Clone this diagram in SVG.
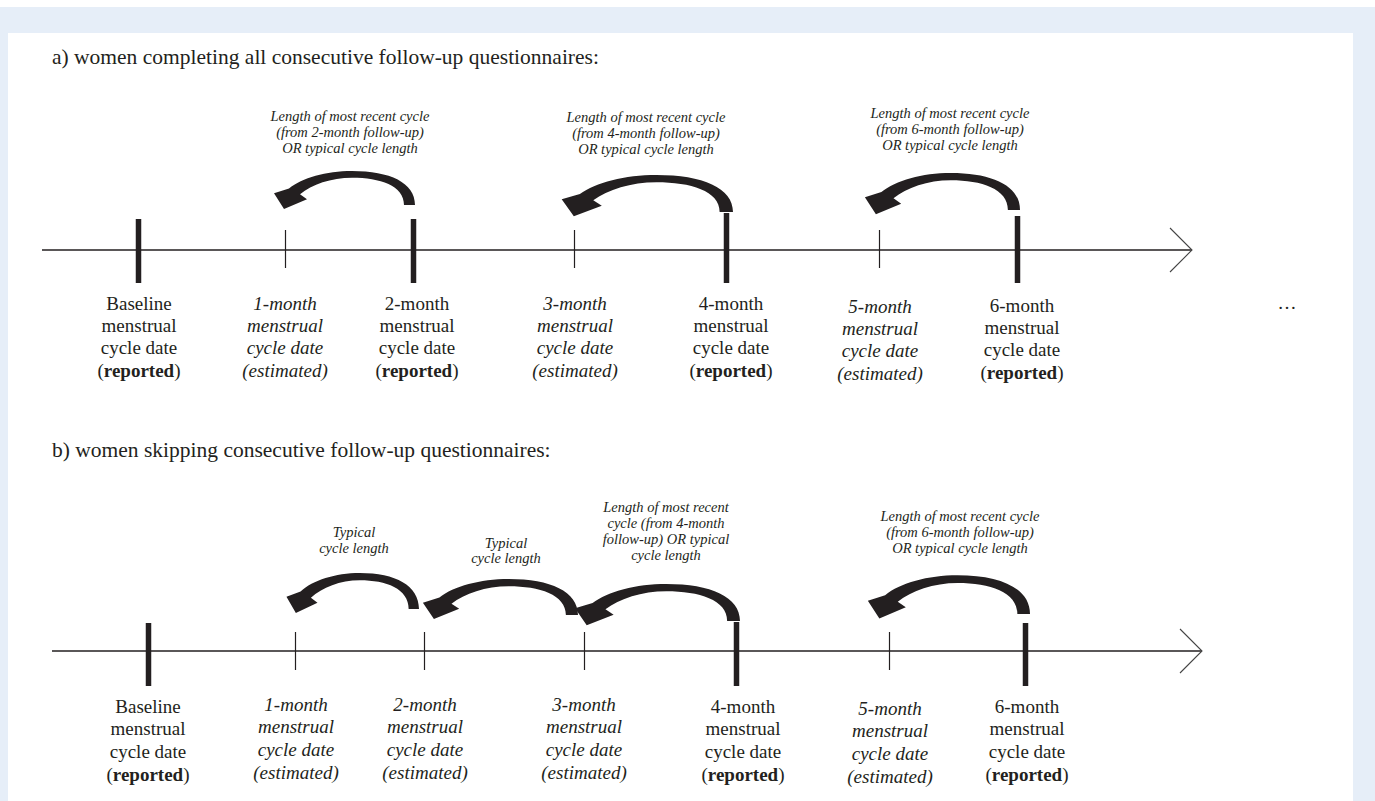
<svg xmlns="http://www.w3.org/2000/svg" xmlns:xlink="http://www.w3.org/1999/xlink" width="1375" height="801" viewBox="0 0 1375 801">
<style>
.t{font-family:"Liberation Serif","Times New Roman",serif;fill:#231f20}
.title{font-size:21.5px}
.lab{font-size:19px;text-anchor:middle}
.it{font-style:italic}
.ann{font-size:14.5px;font-style:italic;text-anchor:middle}
.axis{stroke:#231f20;stroke-width:1.3;fill:none}
.chev{stroke:#444;stroke-width:1.1;fill:none}
.thick{stroke:#231f20;stroke-width:5.5}
.thin{stroke:#231f20;stroke-width:1.2}
.b{font-weight:bold}
</style>
<defs>
<path id="carrow" fill="#231f20" d="M -11 0 C -11 -20 -35 -28 -63 -28 C -84 -28 -103 -21 -115 -11 L -108 -6 L -131 4 L -141 -12 L -126 -17 C -113 -28 -89 -35 -63 -35 C -25 -35 0 -23 0 0 Z"/>
</defs>
<rect x="0" y="0" width="1375" height="801" fill="#ffffff"/>
<rect x="0" y="7" width="1375" height="794" fill="#e6eef8"/>
<rect x="8" y="33" width="1345" height="768" fill="#ffffff"/>

<text class="t title" x="52" y="64">a) women completing all consecutive follow-up questionnaires:</text>
<text class="t title" x="52" y="457">b) women skipping consecutive follow-up questionnaires:</text>

<g id="connectors">
<line class="axis" x1="42" y1="250" x2="1192" y2="250"/>
<polyline class="chev" points="1170,228 1192,250 1170,272"/>
<line class="axis" x1="52" y1="651" x2="1202" y2="651"/>
<polyline class="chev" points="1180,629 1202,651 1180,673"/>
<use xlink:href="#carrow" transform="translate(415 205) scale(1.0 0.97)"/>
<use xlink:href="#carrow" transform="translate(733 212) scale(1.215 1.06)"/>
<use xlink:href="#carrow" transform="translate(1020 210) scale(1.1 1.06)"/>
<use xlink:href="#carrow" transform="translate(419 609) scale(0.94 1.03)"/>
<use xlink:href="#carrow" transform="translate(578 615) scale(1.1 1.03)"/>
<use xlink:href="#carrow" transform="translate(740 621) scale(1.17 1.06)"/>
<use xlink:href="#carrow" transform="translate(1030 614) scale(1.15 1.11)"/>
</g>

<!-- panel a -->
<g id="a-baseline">
<line class="thick" x1="138.5" y1="219" x2="138.5" y2="283"/>
<text class="t lab" x="139" y="310">Baseline</text>
<text class="t lab" x="139" y="332">menstrual</text>
<text class="t lab" x="139" y="354">cycle date</text>
<text class="t lab" x="139" y="377">(<tspan class="b">reported</tspan>)</text>
</g>
<g id="a-1month">
<line class="thin" x1="285.5" y1="230" x2="285.5" y2="268"/>
<text class="t lab it" x="285" y="310">1-month</text>
<text class="t lab it" x="285" y="332">menstrual</text>
<text class="t lab it" x="285" y="354">cycle date</text>
<text class="t lab it" x="285" y="377">(estimated)</text>
</g>
<g id="a-2month">
<line class="thick" x1="413.5" y1="219" x2="413.5" y2="283"/>
<text class="t lab" x="417" y="310">2-month</text>
<text class="t lab" x="417" y="332">menstrual</text>
<text class="t lab" x="417" y="354">cycle date</text>
<text class="t lab" x="417" y="377">(<tspan class="b">reported</tspan>)</text>
</g>
<g id="a-3month">
<line class="thin" x1="574.5" y1="230" x2="574.5" y2="268"/>
<text class="t lab it" x="575" y="310">3-month</text>
<text class="t lab it" x="575" y="332">menstrual</text>
<text class="t lab it" x="575" y="354">cycle date</text>
<text class="t lab it" x="575" y="377">(estimated)</text>
</g>
<g id="a-4month">
<line class="thick" x1="726.5" y1="213" x2="726.5" y2="283"/>
<text class="t lab" x="731" y="310">4-month</text>
<text class="t lab" x="731" y="332">menstrual</text>
<text class="t lab" x="731" y="354">cycle date</text>
<text class="t lab" x="731" y="377">(<tspan class="b">reported</tspan>)</text>
</g>
<g id="a-5month">
<line class="thin" x1="879.5" y1="230" x2="879.5" y2="268"/>
<text class="t lab it" x="880" y="313">5-month</text>
<text class="t lab it" x="880" y="335">menstrual</text>
<text class="t lab it" x="880" y="357">cycle date</text>
<text class="t lab it" x="880" y="380">(estimated)</text>
</g>
<g id="a-6month">
<line class="thick" x1="1017.5" y1="216" x2="1017.5" y2="283"/>
<text class="t lab" x="1022" y="312">6-month</text>
<text class="t lab" x="1022" y="334">menstrual</text>
<text class="t lab" x="1022" y="356">cycle date</text>
<text class="t lab" x="1022" y="379">(<tspan class="b">reported</tspan>)</text>
</g>
<g id="a-ann1">
<text class="t ann" x="350" y="121">Length of most recent cycle</text>
<text class="t ann" x="350" y="137">(from 2-month follow-up)</text>
<text class="t ann" x="350" y="153">OR typical cycle length</text>
</g>
<g id="a-ann2">
<text class="t ann" x="646" y="122">Length of most recent cycle</text>
<text class="t ann" x="646" y="138">(from 4-month follow-up)</text>
<text class="t ann" x="646" y="154">OR typical cycle length</text>
</g>
<g id="a-ann3">
<text class="t ann" x="950" y="118">Length of most recent cycle</text>
<text class="t ann" x="950" y="134">(from 6-month follow-up)</text>
<text class="t ann" x="950" y="150">OR typical cycle length</text>
</g>
<g id="ellipsis">
<text class="t lab" x="1287" y="309">…</text>
</g>

<!-- panel b -->
<g id="b-baseline">
<line class="thick" x1="148.5" y1="623" x2="148.5" y2="686"/>
<text class="t lab" x="148" y="713">Baseline</text>
<text class="t lab" x="148" y="735">menstrual</text>
<text class="t lab" x="148" y="758">cycle date</text>
<text class="t lab" x="148" y="781">(<tspan class="b">reported</tspan>)</text>
</g>
<g id="b-1month">
<line class="thin" x1="295.5" y1="632" x2="295.5" y2="670"/>
<text class="t lab it" x="296" y="711">1-month</text>
<text class="t lab it" x="296" y="733">menstrual</text>
<text class="t lab it" x="296" y="756">cycle date</text>
<text class="t lab it" x="296" y="779">(estimated)</text>
</g>
<g id="b-2month">
<line class="thin" x1="424.5" y1="632" x2="424.5" y2="670"/>
<text class="t lab it" x="425" y="711">2-month</text>
<text class="t lab it" x="425" y="733">menstrual</text>
<text class="t lab it" x="425" y="756">cycle date</text>
<text class="t lab it" x="425" y="779">(estimated)</text>
</g>
<g id="b-3month">
<line class="thin" x1="584.5" y1="632" x2="584.5" y2="670"/>
<text class="t lab it" x="584" y="711">3-month</text>
<text class="t lab it" x="584" y="733">menstrual</text>
<text class="t lab it" x="584" y="756">cycle date</text>
<text class="t lab it" x="584" y="779">(estimated)</text>
</g>
<g id="b-4month">
<line class="thick" x1="736.5" y1="622" x2="736.5" y2="686"/>
<text class="t lab" x="743" y="713">4-month</text>
<text class="t lab" x="743" y="735">menstrual</text>
<text class="t lab" x="743" y="758">cycle date</text>
<text class="t lab" x="743" y="781">(<tspan class="b">reported</tspan>)</text>
</g>
<g id="b-5month">
<line class="thin" x1="889.5" y1="632" x2="889.5" y2="670"/>
<text class="t lab it" x="890" y="715">5-month</text>
<text class="t lab it" x="890" y="737">menstrual</text>
<text class="t lab it" x="890" y="760">cycle date</text>
<text class="t lab it" x="890" y="783">(estimated)</text>
</g>
<g id="b-6month">
<line class="thick" x1="1025.5" y1="623" x2="1025.5" y2="686"/>
<text class="t lab" x="1027" y="713">6-month</text>
<text class="t lab" x="1027" y="735">menstrual</text>
<text class="t lab" x="1027" y="758">cycle date</text>
<text class="t lab" x="1027" y="781">(<tspan class="b">reported</tspan>)</text>
</g>
<g id="b-ann1">
<text class="t ann" x="354" y="537">Typical</text>
<text class="t ann" x="354" y="553">cycle length</text>
</g>
<g id="b-ann2">
<text class="t ann" x="506" y="548">Typical</text>
<text class="t ann" x="506" y="563">cycle length</text>
</g>
<g id="b-ann3">
<text class="t ann" x="666" y="512">Length of most recent</text>
<text class="t ann" x="666" y="528">cycle (from 4-month</text>
<text class="t ann" x="666" y="544">follow-up) OR typical</text>
<text class="t ann" x="666" y="560">cycle length</text>
</g>
<g id="b-ann4">
<text class="t ann" x="960" y="521">Length of most recent cycle</text>
<text class="t ann" x="960" y="537">(from 6-month follow-up)</text>
<text class="t ann" x="960" y="553">OR typical cycle length</text>
</g>
</svg>
